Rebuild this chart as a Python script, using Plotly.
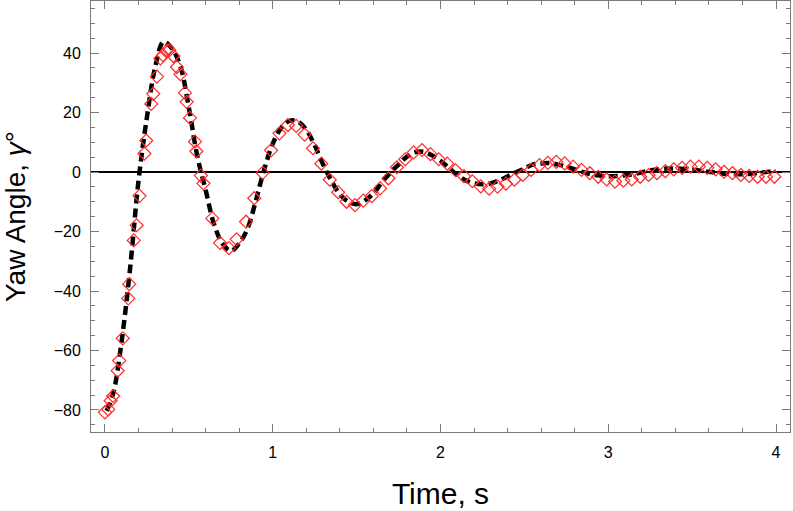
import plotly.graph_objects as go

# measured yaw angle (red diamonds)
t_meas = [0.00, 0.02, 0.034, 0.049, 0.076, 0.085, 0.106, 0.139, 0.145, 0.172,
          0.189, 0.206, 0.235, 0.246, 0.276, 0.288, 0.31, 0.331, 0.346, 0.37,
          0.384, 0.408, 0.429, 0.45, 0.477, 0.487, 0.507, 0.537, 0.545, 0.572,
          0.587, 0.64, 0.686, 0.739, 0.785, 0.841, 0.89,
          0.94, 0.99, 1.04, 1.09, 1.14, 1.19, 1.24, 1.29, 1.34, 1.39,
          1.44, 1.49, 1.54, 1.59, 1.64, 1.69, 1.74, 1.79, 1.84, 1.89,
          1.94, 1.99, 2.04, 2.09, 2.14, 2.19, 2.24, 2.29, 2.34, 2.39,
          2.44, 2.49, 2.54, 2.59, 2.64, 2.69, 2.74, 2.79, 2.84, 2.89,
          2.94, 2.99, 3.04, 3.09, 3.14, 3.19, 3.24, 3.29, 3.34, 3.39,
          3.44, 3.49, 3.54, 3.59, 3.64, 3.69, 3.74, 3.79, 3.84, 3.89,
          3.94, 3.99]
yaw_meas = [-80.8, -79.8, -76.9, -75.3, -66.8, -63.4, -55.9, -42.5, -37.7, -23.0,
            -17.9, -8.0, 6.2, 10.6, 22.9, 26.3, 32.1, 38.2, 39.3, 40.9,
            41.0, 39.0, 35.3, 32.9, 26.6, 23.6, 18.2, 10.2, 7.0, -1.2,
            -3.8, -15.6, -23.8, -25.6, -22.6, -16.7, -8.8,
            -0.3, 7.3, 13.0, 15.8, 15.5, 12.6, 8.0, 2.8, -2.6, -6.8,
            -10.0, -11.1, -9.6, -8.1, -5.5, -2.1, 1.6, 4.3, 6.6, 7.4,
            6.0, 4.3, 2.8, 0.6, -1.4, -3.1, -4.8, -5.6, -4.9, -3.9,
            -2.6, -1.0, 0.7, 2.3, 3.1, 3.4, 2.9, 1.8, 0.7, -0.4,
            -1.6, -2.5, -3.2, -2.9, -2.5, -1.6, -1.0, -0.4, 0.3, 0.9,
            1.4, 1.8, 1.8, 1.4, 0.9, 0.1, -0.4, -1.0, -1.3, -1.6,
            -1.6, -1.6]

# model curve (black dashed)
t_model = [0.01, 0.05, 0.10, 0.15, 0.20, 0.25, 0.30, 0.35, 0.40, 0.45,
           0.50, 0.55, 0.60, 0.65, 0.70, 0.75, 0.80, 0.85, 0.90, 0.95,
           1.00, 1.05, 1.10, 1.15, 1.20, 1.25, 1.30, 1.35, 1.40, 1.45,
           1.50, 1.55, 1.60, 1.65, 1.70, 1.75, 1.80, 1.85, 1.90, 1.95,
           2.00, 2.05, 2.10, 2.15, 2.20, 2.25, 2.30, 2.35, 2.40, 2.45,
           2.50, 2.55, 2.60, 2.65, 2.70, 2.75, 2.80, 2.85, 2.90, 2.95,
           3.00, 3.05, 3.10, 3.15, 3.20, 3.25, 3.30, 3.35, 3.40, 3.45,
           3.50, 3.55, 3.60, 3.65, 3.70, 3.75, 3.80, 3.85, 3.90, 3.95,
           4.00]
yaw_model = [-80.3, -74.3, -56.7, -32.4, -3.0, 18.3, 35.4, 43.8, 41.5, 35.5,
             21.7, 5.5, -6.0, -17.5, -24.0, -26.5, -24.0, -19.0, -9.5, 1.0,
             9.5, 14.8, 17.2, 17.0, 14.2, 9.0, 2.6, -3.0, -7.5, -10.0,
             -10.8, -9.5, -7.2, -3.5, -0.3, 2.5, 5.2, 6.7, 6.8, 5.6,
             3.8, 1.4, -1.0, -2.8, -3.8, -4.1, -3.8, -2.8, -1.5, -0.1,
             1.2, 2.5, 2.9, 3.0, 2.5, 1.8, 0.9, 0.0, -0.8, -1.2,
             -1.4, -1.35, -1.1, -0.7, -0.1, 0.5, 0.95, 1.2, 1.2, 1.05,
             0.8, 0.4, 0.05, -0.3, -0.6, -0.75, -0.75, -0.55, -0.25, 0.05,
             0.3]

fig = go.Figure()
fig.add_trace(go.Scatter(x=t_model, y=yaw_model, mode='lines', line_shape='spline',
                         line=dict(color='black', width=4.5, dash='9px,5px'),
                         showlegend=False))
fig.add_trace(go.Scatter(x=t_meas, y=yaw_meas, mode='markers',
                         marker=dict(symbol='diamond-open', size=10,
                                     color='#ff2a2a', line=dict(width=1.2)),
                         showlegend=False))

axis_style = dict(showline=True, linecolor='#7a7a7a', linewidth=1, mirror='allticks',
                  ticks='inside', tickcolor='#7a7a7a', showgrid=False, automargin=False,
                  tickfont=dict(family='Liberation Sans, Arial', size=16, color='black'),
                  ticklabelstandoff=6)

fig.update_xaxes(range=[-0.083, 4.083], tick0=0, dtick=1, ticklen=8, zeroline=False,
                 minor=dict(dtick=0.2, ticks='inside', ticklen=4, tickcolor='#7a7a7a'),
                 title=dict(text='Time, s', standoff=22,
                            font=dict(family='Liberation Sans, Arial', size=30, color='black')),
                 **axis_style)
fig.update_yaxes(range=[-87.4, 57.5], tick0=0, dtick=20, ticklen=8,
                 zeroline=True, zerolinecolor='black', zerolinewidth=1.5,
                 minor=dict(dtick=5, ticks='inside', ticklen=4, tickcolor='#7a7a7a'),
                 title=dict(text='Yaw Angle, <i>γ</i>°', standoff=20,
                            font=dict(family='Liberation Sans, Arial', size=28, color='black')),
                 **axis_style)

fig.update_layout(width=793, height=511, margin=dict(l=91, r=3, t=1, b=79),
                  plot_bgcolor='white', paper_bgcolor='white')

fig.write_html("out.html", config={'displayModeBar': False},
               post_script="document.body.style.margin='0';document.body.style.overflow='hidden';")
